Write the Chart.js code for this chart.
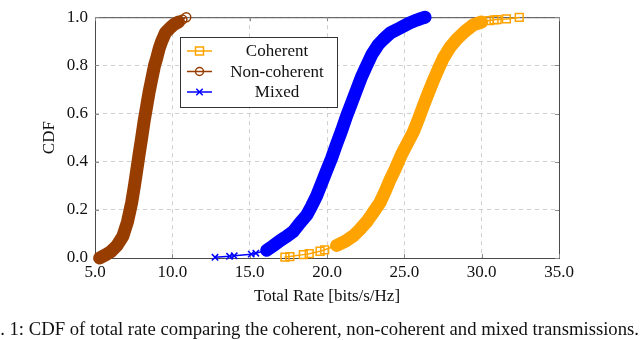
<!DOCTYPE html>
<html>
<head>
<meta charset="utf-8">
<script src="https://cdn.jsdelivr.net/npm/chart.js@4.4.1/dist/chart.umd.min.js"></script>
<style>
  html, body { margin: 0; padding: 0; background: #fff; }
</style>
</head>
<body>
<canvas id="cdf" width="640" height="340"></canvas>
<script>
/* ---------- data ---------- */

const xTicks = [5, 10, 15, 20, 25, 30, 35];
const yTicks = [0, 0.2, 0.4, 0.6, 0.8, 1.0];

const coherentRate = [17.28, 17.6, 18.47, 18.85, 19.55, 19.85, 20.62, 21.2, 21.7, 22.15, 22.57, 23.0,
  23.43, 23.75, 24.07, 24.45, 24.82, 25.2, 25.58, 25.9, 26.22, 26.55, 26.87, 27.2, 27.52, 27.95,
  28.38, 28.9, 29.46, 30.0, 30.5, 30.8, 31.0, 31.6, 32.43];
const coherentCdf = [0.004, 0.006, 0.014, 0.018, 0.028, 0.034, 0.052, 0.07, 0.092, 0.12, 0.151, 0.19,
  0.231, 0.275, 0.324, 0.375, 0.43, 0.477, 0.523, 0.575, 0.63, 0.685, 0.736, 0.785, 0.83, 0.875,
  0.908, 0.94, 0.968, 0.98, 0.986, 0.989, 0.99, 0.993, 0.999];

const nonCoherentRate = [5.3, 5.6, 6.0, 6.4, 6.8, 7.1, 7.37, 7.55, 7.69, 7.85, 8.02, 8.18, 8.34, 8.5,
  8.66, 8.85, 8.99, 9.15, 9.31, 9.55, 9.85, 10.1, 10.4, 10.65, 10.9];
const nonCoherentCdf = [0.0, 0.01, 0.025, 0.05, 0.09, 0.15, 0.23, 0.30, 0.36, 0.43, 0.50, 0.57, 0.63, 0.69,
  0.74, 0.80, 0.83, 0.87, 0.90, 0.935, 0.955, 0.97, 0.98, 0.99, 1.0];

const mixedRate = [12.76, 13.7, 14.0, 15.1, 15.4, 16.1, 16.5, 16.96, 17.4, 17.82, 18.25, 18.69, 19.0,
  19.33, 19.65, 19.98, 20.3, 20.6, 20.95, 21.27, 21.6, 21.92, 22.25, 22.57, 22.9, 23.3, 23.64, 24.1,
  24.72, 25.3, 25.8, 26.1, 26.34];
const mixedCdf = [0.003, 0.007, 0.009, 0.016, 0.020, 0.032, 0.05, 0.072, 0.09, 0.11, 0.145, 0.178, 0.215,
  0.258, 0.31, 0.364, 0.415, 0.47, 0.53, 0.59, 0.645, 0.70, 0.755, 0.80, 0.845, 0.885, 0.908, 0.935,
  0.955, 0.975, 0.988, 0.995, 1.0];

/* ---------- look ---------- */

const serif = "'Liberation Serif', 'Times New Roman', serif";
const ORANGE = '#ffa300';
const BROWN = '#983d00';
const BLUE = '#0000ff';

const toPoints = (xs, ys) => xs.map((x, i) => ({ x, y: ys[i] }));

// thick band where the samples are dense, thin line with single marks in the tails
function bandWidth(from, to) {
  return ctx => {
    const a = ctx.p0.parsed.x, b = ctx.p1.parsed.x;
    return (a >= from && b <= to) ? 13 : 1.5;
  };
}

function series(label, xs, ys, color, pointStyle, radius, band) {
  return {
    label,
    data: toPoints(xs, ys),
    borderColor: color,
    backgroundColor: 'rgba(0,0,0,0)',
    pointBorderColor: color,
    pointBackgroundColor: 'rgba(0,0,0,0)',
    pointStyle,
    pointRadius: radius,
    pointBorderWidth: 1.5,
    borderWidth: 1.5,
    borderCapStyle: 'round',
    borderJoinStyle: 'round',
    tension: 0,
    clip: false,
    segment: { borderWidth: bandWidth(band[0], band[1]) }
  };
}

/* ---------- frame, legend, caption ---------- */

function mark(ctx, style, x, y, r) {
  ctx.beginPath();
  if (style === 'rect') {
    ctx.rect(x - r, y - r, 2 * r, 2 * r);
  } else if (style === 'circle') {
    ctx.arc(x, y, r, 0, Math.PI * 2);
  } else {
    const d = r * 0.8;
    ctx.moveTo(x - d, y - d); ctx.lineTo(x + d, y + d);
    ctx.moveTo(x + d, y - d); ctx.lineTo(x - d, y + d);
  }
  ctx.stroke();
}

const paperPlugin = {
  id: 'paper',
  beforeDatasetsDraw(chart) {
    const { ctx, chartArea: a, scales } = chart;
    ctx.save();
    ctx.strokeStyle = '#4a4a4a';
    ctx.lineWidth = 1;
    ctx.strokeRect(a.left + 0.5, a.top + 0.5, a.width, a.height);
    // small inward ticks on all four sides
    ctx.strokeStyle = '#8a8a8a';
    ctx.beginPath();
    xTicks.forEach(v => {
      const px = Math.round(scales.x.getPixelForValue(v)) + 0.5;
      ctx.moveTo(px, a.bottom); ctx.lineTo(px, a.bottom - 4);
      ctx.moveTo(px, a.top); ctx.lineTo(px, a.top + 4);
    });
    yTicks.forEach(v => {
      const py = Math.round(scales.y.getPixelForValue(v)) + 0.5;
      ctx.moveTo(a.left, py); ctx.lineTo(a.left + 4, py);
      ctx.moveTo(a.right, py); ctx.lineTo(a.right - 4, py);
    });
    ctx.stroke();
    ctx.restore();
  },
  afterDraw(chart) {
    const { ctx } = chart;
    ctx.save();

    // legend box
    const box = { x: 180.5, y: 37.5, w: 157, h: 70 };
    ctx.fillStyle = '#fff';
    ctx.fillRect(box.x, box.y, box.w, box.h);
    ctx.strokeStyle = '#333';
    ctx.lineWidth = 1;
    ctx.strokeRect(box.x, box.y, box.w, box.h);

    ctx.font = '17px ' + serif;
    ctx.textAlign = 'center';
    ctx.textBaseline = 'middle';
    chart.data.datasets.forEach((ds, i) => {
      const y = 51 + i * 20.5;
      ctx.strokeStyle = ds.borderColor;
      ctx.lineWidth = 1.5;
      ctx.beginPath();
      ctx.moveTo(187, y); ctx.lineTo(212, y);
      ctx.stroke();
      mark(ctx, ds.pointStyle, 199.5, y, 4);
      ctx.fillStyle = '#111';
      ctx.fillText(ds.label, 277, y + 1);
    });

    // caption (cut off on the left in the original)
    ctx.font = '18.7px ' + serif;
    ctx.textAlign = 'right';
    ctx.textBaseline = 'alphabetic';
    ctx.fillStyle = '#111';
    ctx.fillText('Fig. 1: CDF of total rate comparing the coherent, non-coherent and mixed transmissions.', 639, 335);

    ctx.restore();
  }
};

/* ---------- chart ---------- */

new Chart(document.getElementById('cdf'), {
  type: 'line',
  data: {
    datasets: [
      series('Coherent', coherentRate, coherentCdf, ORANGE, 'rect', 5.5, [20.3, 30.3]),
      series('Non-coherent', nonCoherentRate, nonCoherentCdf, BROWN, 'circle', 4.5, [5.0, 10.5]),
      series('Mixed', mixedRate, mixedCdf, BLUE, 'crossRot', 4.5, [16.0, 27.0])
    ]
  },
  options: {
    responsive: false,
    animation: false,
    events: [],
    layout: { padding: { left: 0, right: 81, top: 7, bottom: 33 } },
    plugins: {
      legend: { display: false },
      tooltip: { enabled: false }
    },
    scales: {
      x: {
        type: 'linear',
        min: 5,
        max: 35,
        afterBuildTicks: s => { s.ticks = xTicks.map(v => ({ value: v })); },
        afterFit: s => { s.height = 49; },
        grid: { color: '#d0d0d0', lineWidth: 1, drawTicks: false },
        border: { display: false, dash: [4, 4] },
        ticks: {
          color: '#111',
          padding: 4,
          maxRotation: 0,
          font: { family: serif, size: 17 },
          callback: v => v.toFixed(1)
        },
        title: {
          display: true,
          text: 'Total Rate [bits/s/Hz]',
          color: '#111',
          font: { family: serif, size: 17 },
          padding: { top: 2, bottom: 0 }
        }
      },
      y: {
        type: 'linear',
        min: 0,
        max: 1,
        afterBuildTicks: s => { s.ticks = yTicks.map(v => ({ value: v })); },
        afterFit: s => { s.width = 95; },
        grid: { color: '#d0d0d0', lineWidth: 1, drawTicks: false },
        border: { display: false, dash: [4, 4] },
        ticks: {
          color: '#111',
          padding: 7,
          font: { family: serif, size: 17 },
          callback: v => v.toFixed(1)
        },
        title: {
          display: true,
          text: 'CDF',
          color: '#111',
          font: { family: serif, size: 17 },
          padding: { top: 39, bottom: 0 }
        }
      }
    }
  },
  plugins: [paperPlugin]
});
</script>
</body>
</html>
